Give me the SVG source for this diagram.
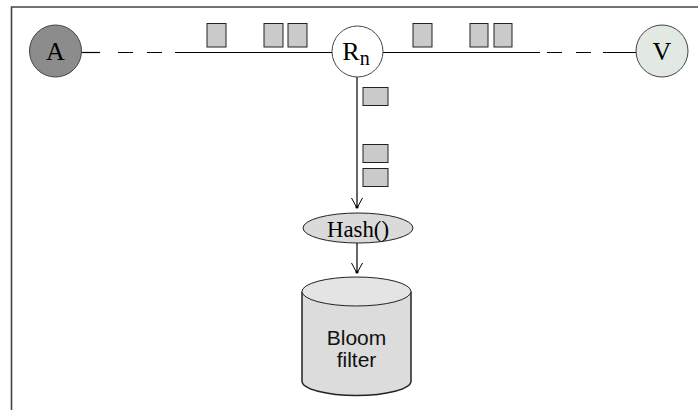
<svg xmlns="http://www.w3.org/2000/svg" width="698" height="410" viewBox="0 0 698 410">
<defs>
<style>
.pkt{fill:#cacaca;stroke:#222;stroke-width:1}
.ln{stroke:#000;stroke-width:1.2;fill:none}
.dash{stroke:#000;stroke-width:1.2;fill:none;stroke-dasharray:15 14}
.node{stroke:#444;stroke-width:1}
.tt{font-family:"Liberation Serif",serif;fill:#000}
.ts{font-family:"Liberation Sans",sans-serif;fill:#111}
</style>
<marker id="arr" markerWidth="12" markerHeight="16" refX="10" refY="8" orient="auto" markerUnits="userSpaceOnUse">
<path d="M0,2.5 L10,8 L0,13.5" fill="none" stroke="#000" stroke-width="1"/>
<circle cx="9" cy="8" r="1.6" fill="#000"/>
</marker>
</defs>
<rect width="698" height="410" fill="#fff"/>
<path d="M11.5,410 V7 H698" fill="none" stroke="#444" stroke-width="1.6"/>
<g id="connectors">
<path class="ln" d="M82,52.5 H100"/>
<path class="dash" d="M118,52.5 H175"/>
<path class="ln" d="M175,52.5 H332"/>
<path class="ln" d="M383,52.5 H540"/>
<path class="dash" d="M547,52.5 H604"/>
<path class="ln" d="M603,52.5 H636"/>
<path class="ln" d="M357,77 V208" marker-end="url(#arr)"/>
<path class="ln" d="M357,243 V273" marker-end="url(#arr)"/>
</g>
<g id="packets">
<rect class="pkt" x="207" y="23.5" width="19" height="23.5"/>
<rect class="pkt" x="264" y="23.5" width="19" height="23.5"/>
<rect class="pkt" x="288" y="23.5" width="19" height="23.5"/>
<rect class="pkt" x="413" y="23.5" width="19" height="23.5"/>
<rect class="pkt" x="470" y="23.5" width="18" height="23.5"/>
<rect class="pkt" x="494" y="23.5" width="18" height="23.5"/>
<rect class="pkt" x="363" y="87.5" width="25" height="18"/>
<rect class="pkt" x="363" y="144.5" width="25" height="18"/>
<rect class="pkt" x="363" y="168.5" width="25" height="18"/>
</g>
<g id="node-A">
<circle class="node" cx="55.5" cy="51" r="26" fill="#8c8c8c"/>
<text class="tt" x="55.5" y="60" font-size="26" text-anchor="middle">A</text>
</g>
<g id="node-Rn">
<circle class="node" cx="357.5" cy="51.5" r="25.5" fill="#fff"/>
<text class="tt" x="356" y="60" font-size="26" text-anchor="middle">R<tspan font-size="20" dy="5">n</tspan></text>
</g>
<g id="node-V">
<circle class="node" cx="662" cy="51" r="26" fill="#e2e8e2"/>
<text class="tt" x="662" y="60" font-size="26" text-anchor="middle">V</text>
</g>
<g id="node-hash">
<ellipse cx="358" cy="228" rx="55" ry="15" fill="#dadada" stroke="#222" stroke-width="1"/>
<text class="tt" x="358" y="237" font-size="24" text-anchor="middle" textLength="62" lengthAdjust="spacingAndGlyphs">Hash()</text>
</g>
<g id="node-bloom">
<path d="M302,291.5 V381 A54.5,14.5 0 0 0 411,381 V291.5" fill="#dcdcdc" stroke="#222" stroke-width="1.5"/>
<ellipse cx="356.5" cy="291.5" rx="54.5" ry="14.5" fill="#e4e4e4" stroke="#222" stroke-width="1"/>
<text class="ts" x="356.5" y="345" font-size="21" text-anchor="middle">Bloom</text>
<text class="ts" x="356.5" y="367" font-size="21" text-anchor="middle">filter</text>
</g>
</svg>
